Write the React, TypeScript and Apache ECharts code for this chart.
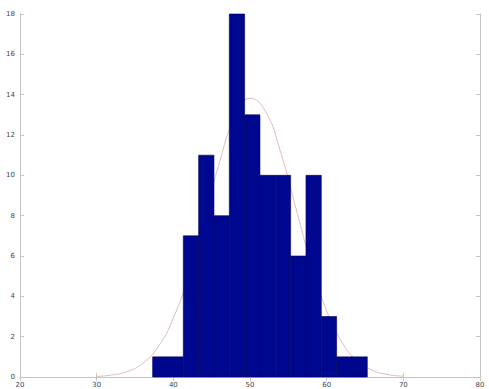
import React, { useEffect, useRef } from "react";
import * as echarts from "echarts";

// Histogram bins (left edge) and counts
const binStarts = [37.3, 39.3, 41.3, 43.3, 45.3, 47.3, 49.3, 51.3, 53.3, 55.3, 57.3, 59.3, 61.3, 63.3];
const binWidth = 2;
const counts = [1, 1, 7, 11, 8, 18, 13, 10, 10, 6, 10, 3, 1, 1];

// Fitted normal curve
const curveX = [30, 32, 34, 36, 38, 40, 42, 44, 46, 48, 50, 52, 54, 56, 58, 60, 62, 64, 66, 68, 70];
const curveY = [0.03, 0.1, 0.27, 0.68, 1.49, 2.92, 5.06, 7.78, 10.62, 12.86, 13.82, 13.18, 11.14, 8.36, 5.57, 3.28, 1.72, 0.8, 0.33, 0.12, 0.04];

const xTicks = { min: 20, max: 80, interval: 10 };
const yTicks = { min: 0, max: 18, interval: 2 };

export default function App() {
  const ref = useRef<HTMLDivElement>(null);
  useEffect(() => {
    if (!ref.current) return;
    const chart = echarts.init(ref.current, null, { renderer: "svg" });
    const axisLine = { show: true, lineStyle: { color: "#c4c4c4", width: 1 } };
    const tick = { show: true, inside: true, length: 4, lineStyle: { color: "#c4c4c4" } };
    const label = { color: "#444", fontSize: 7, fontFamily: "DejaVu Sans" };
    chart.setOption({
      animation: false,
      backgroundColor: "#ffffff",
      grid: { left: 20, right: 9, top: 14, bottom: 12, containLabel: false },
      xAxis: [
        {
          type: "value",
          ...xTicks,
          axisLine,
          axisTick: tick,
          axisLabel: { ...label, margin: 4 },
          splitLine: { show: false },
        },
        {
          type: "value",
          position: "top",
          ...xTicks,
          axisLine,
          axisTick: tick,
          axisLabel: { show: false },
          splitLine: { show: false },
        },
      ],
      yAxis: [
        {
          type: "value",
          ...yTicks,
          axisLine,
          axisTick: tick,
          axisLabel: { ...label, margin: 5 },
          splitLine: { show: false },
        },
        {
          type: "value",
          position: "right",
          ...yTicks,
          axisLine,
          axisTick: tick,
          axisLabel: { show: false },
          splitLine: { show: false },
        },
      ],
      series: [
        {
          type: "line",
          data: curveX.map((x, i) => [x, curveY[i]]),
          smooth: true,
          showSymbol: false,
          lineStyle: { color: "#e2bcbc", width: 1 },
          z: 1,
        },
        {
          type: "custom",
          z: 2,
          data: binStarts.map((s, i) => [s, s + binWidth, counts[i]]),
          renderItem: (params: any, api: any) => {
            const p0 = api.coord([api.value(0), 0]);
            const p1 = api.coord([api.value(1), api.value(2)]);
            return {
              type: "rect",
              shape: { x: p0[0], y: p1[1], width: p1[0] - p0[0], height: p0[1] - p1[1] },
              style: { fill: "#00078f", stroke: "#000060", lineWidth: 0.6 },
            };
          },
        },
      ],
    });
    return () => chart.dispose();
  }, []);
  return (
    <div
      ref={ref}
      style={{ position: "fixed", left: 0, top: 0, width: 489, height: 389, background: "#fff" }}
    />
  );
}
